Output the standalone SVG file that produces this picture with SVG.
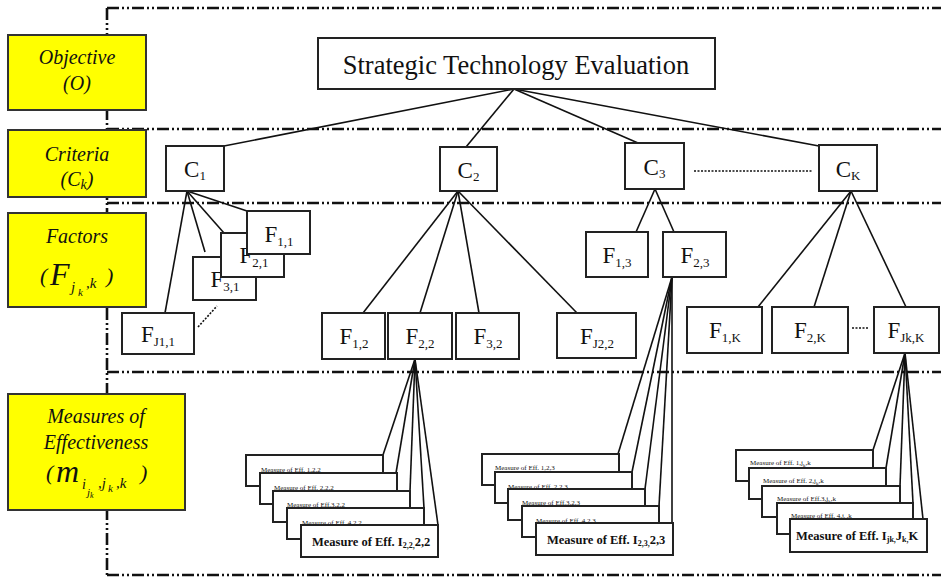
<svg xmlns="http://www.w3.org/2000/svg" width="941" height="581" viewBox="0 0 941 581" font-family="'Liberation Serif', 'DejaVu Serif', 'Times New Roman', serif">
<style>
.frame{fill:none;stroke:#111;stroke-width:2.6;stroke-dasharray:12 3 2 3 2 3}
.box{fill:#fff;stroke:#222;stroke-width:2}
.ybox{fill:#ffff00;stroke:#333;stroke-width:2}
.conn line{stroke:#111;stroke-width:1.6}
.dots{stroke:#111;stroke-width:3;stroke-dasharray:2 1.5}
text{font-family:'Liberation Serif','DejaVu Serif','Times New Roman',serif;fill:#111}
.lbl{font-size:23px;text-anchor:middle}
.sub{font-size:13px}
.ital{font-style:italic;font-size:20px;text-anchor:middle}
.small{font-size:7px}
.big{font-size:12.5px;font-weight:bold}
.bsub{font-size:8px}
</style>

<g id="frame">
<line class="frame" x1="107" y1="8" x2="941" y2="8"/>
<line class="frame" x1="107" y1="8" x2="107" y2="575"/>
<line class="frame" x1="107" y1="129" x2="941" y2="129"/>
<line class="frame" x1="107" y1="203" x2="941" y2="203"/>
<line class="frame" x1="107" y1="372" x2="941" y2="372"/>
<line class="frame" x1="107" y1="575" x2="941" y2="575"/>
</g>

<g id="legend-objective">
<rect class="ybox" x="8" y="35" width="138" height="75"/>
<text class="ital" x="77" y="64">Objective</text>
<text class="ital" x="77" y="90">(O)</text>
</g>
<g id="legend-criteria">
<rect class="ybox" x="8" y="130" width="138" height="67"/>
<text class="ital" x="77" y="161">Criteria</text>
<text class="ital" x="77" y="186">(C<tspan font-size="14" dy="3">k</tspan><tspan dy="-3">)</tspan></text>
</g>
<g id="legend-factors">
<rect class="ybox" x="8" y="213" width="138" height="94"/>
<text class="ital" x="77" y="243">Factors</text>
<text x="40" y="283" font-style="italic" font-size="22">(</text>
<text x="50" y="285" font-style="italic" font-size="32">F</text>
<text x="71" y="292" font-style="italic" font-size="15">j</text>
<text x="78" y="296" font-style="italic" font-size="11">k</text>
<text x="86" y="288" font-style="italic" font-size="15">,k</text>
<text x="106" y="283" font-style="italic" font-size="22">)</text>
</g>
<g id="legend-measures">
<rect class="ybox" x="8" y="394" width="177" height="116"/>
<text class="ital" x="96" y="423">Measures of</text>
<text class="ital" x="96" y="449">Effectiveness</text>
<text x="46" y="480" font-style="italic" font-size="22">(</text>
<text x="56" y="482" font-style="italic" font-size="32">m</text>
<text x="82" y="489" font-style="italic" font-size="14">i</text>
<text x="87" y="496" font-style="italic" font-size="11">j<tspan font-size="8" dy="2">k</tspan></text>
<text x="98" y="488" font-style="italic" font-size="15">,j</text>
<text x="108" y="492" font-style="italic" font-size="11">k</text>
<text x="116" y="488" font-style="italic" font-size="15">,k</text>
<text x="140" y="480" font-style="italic" font-size="22">)</text>
</g>

<g id="connectors" class="conn">
<line x1="514" y1="89" x2="224" y2="146"/>
<line x1="514" y1="89" x2="466" y2="147"/>
<line x1="514" y1="89" x2="638" y2="143"/>
<line x1="514" y1="89" x2="819" y2="146"/>
<line x1="187" y1="191" x2="165" y2="313"/>
<line x1="187" y1="191" x2="205" y2="252"/>
<line x1="187" y1="191" x2="224" y2="233"/>
<line x1="187" y1="191" x2="247" y2="211"/>
<line x1="458" y1="191" x2="363" y2="313"/>
<line x1="458" y1="191" x2="420" y2="313"/>
<line x1="458" y1="191" x2="479" y2="313"/>
<line x1="458" y1="191" x2="577" y2="313"/>
<line x1="655" y1="189" x2="636" y2="232"/>
<line x1="655" y1="189" x2="674" y2="232"/>
<line x1="851" y1="191" x2="758" y2="307"/>
<line x1="851" y1="191" x2="814" y2="307"/>
<line x1="851" y1="191" x2="906" y2="307"/>
<line x1="415" y1="359" x2="383" y2="455"/>
<line x1="415" y1="359" x2="396" y2="473"/>
<line x1="415" y1="359" x2="410" y2="491"/>
<line x1="415" y1="359" x2="424" y2="508"/>
<line x1="415" y1="359" x2="438" y2="525"/>
<line x1="672" y1="277" x2="618" y2="454"/>
<line x1="672" y1="277" x2="632" y2="472"/>
<line x1="672" y1="277" x2="645" y2="489"/>
<line x1="672" y1="277" x2="659" y2="506"/>
<line x1="672" y1="277" x2="672" y2="523"/>
<line x1="905" y1="353" x2="873" y2="450"/>
<line x1="905" y1="353" x2="886" y2="468"/>
<line x1="905" y1="353" x2="900" y2="486"/>
<line x1="905" y1="353" x2="913" y2="503"/>
<line x1="905" y1="353" x2="923" y2="519"/>
<line class="dots" x1="694" y1="171" x2="812" y2="171"/>
<line class="dots" x1="852" y1="328" x2="869" y2="328"/>
<line class="dots" x1="198" y1="327" x2="217" y2="306"/>
</g>

<g id="objective">
<rect class="box" x="318" y="38" width="397" height="51"/>
<text x="516" y="74" font-size="26.5" text-anchor="middle">Strategic Technology Evaluation</text>
</g>

<g id="c1"><rect class="box" x="166" y="146" width="58" height="45"/><text class="lbl" x="195" y="177">C<tspan class="sub" dy="3">1</tspan></text></g>
<g id="c2"><rect class="box" x="440" y="147" width="57" height="44"/><text class="lbl" x="468.5" y="178">C<tspan class="sub" dy="3">2</tspan></text></g>
<g id="c3"><rect class="box" x="625" y="143" width="59" height="46"/><text class="lbl" x="654.5" y="175">C<tspan class="sub" dy="3">3</tspan></text></g>
<g id="ck"><rect class="box" x="819" y="145" width="58" height="46"/><text class="lbl" x="848" y="177">C<tspan class="sub" dy="3">K</tspan></text></g>

<g id="f31"><rect class="box" x="193" y="257" width="63" height="43"/><text class="lbl" x="225" y="287">F<tspan class="sub" dy="4">3,1</tspan></text></g>
<g id="f21"><rect class="box" x="221" y="233" width="63" height="44"/><text class="lbl" x="254" y="263">F<tspan class="sub" dy="4">2,1</tspan></text></g>
<g id="f11"><rect class="box" x="247" y="211" width="63" height="43"/><text class="lbl" x="279" y="242">F<tspan class="sub" dy="4">1,1</tspan></text></g>
<g id="fj11"><rect class="box" x="122" y="313" width="72" height="41"/><text class="lbl" x="158" y="342">F<tspan class="sub" dy="4">J1,1</tspan></text></g>

<g id="f12"><rect class="box" x="322" y="313" width="63" height="46"/><text class="lbl" x="354" y="344">F<tspan class="sub" dy="4">1,2</tspan></text></g>
<g id="f22"><rect class="box" x="388" y="313" width="64" height="46"/><text class="lbl" x="420" y="344">F<tspan class="sub" dy="4">2,2</tspan></text></g>
<g id="f32"><rect class="box" x="456" y="313" width="63" height="46"/><text class="lbl" x="488" y="344">F<tspan class="sub" dy="4">3,2</tspan></text></g>
<g id="fj22"><rect class="box" x="557" y="313" width="79" height="45"/><text class="lbl" x="597" y="344">F<tspan class="sub" dy="4">J2,2</tspan></text></g>

<g id="f13"><rect class="box" x="586" y="232" width="62" height="45"/><text class="lbl" x="617" y="263">F<tspan class="sub" dy="4">1,3</tspan></text></g>
<g id="f23"><rect class="box" x="663" y="232" width="63" height="45"/><text class="lbl" x="695" y="263">F<tspan class="sub" dy="4">2,3</tspan></text></g>

<g id="f1k"><rect class="box" x="687" y="307" width="75" height="46"/><text class="lbl" x="725" y="338">F<tspan class="sub" dy="4">1,K</tspan></text></g>
<g id="f2k"><rect class="box" x="772" y="307" width="76" height="46"/><text class="lbl" x="810" y="338">F<tspan class="sub" dy="4">2,K</tspan></text></g>
<g id="fjkk"><rect class="box" x="874" y="307" width="65" height="46"/><text class="lbl" x="906" y="338">F<tspan class="sub" dy="4">Jk,K</tspan></text></g>

<g id="m-stack-22">
<rect class="box" x="246" y="455" width="137" height="31"/><text class="small" x="261" y="472">Measure of Eff. 1,2,2</text>
<rect class="box" x="260" y="473" width="137" height="31"/><text class="small" x="274" y="490">Measure of Eff. 2,2,2</text>
<rect class="box" x="273" y="491" width="137" height="31"/><text class="small" x="287" y="507">Measure of Eff.3,2,2</text>
<rect class="box" x="287" y="508" width="137" height="31"/><text class="small" x="302" y="525">Measure of Eff. 4,2,2</text>
<rect class="box" x="301" y="525" width="137" height="32"/><text class="big" x="312" y="546">Measure of Eff. I<tspan class="bsub" dy="2">2,2,</tspan><tspan dy="-2">2,2</tspan></text>
</g>
<g id="m-stack-23">
<rect class="box" x="482" y="454" width="137" height="31"/><text class="small" x="495" y="470">Measure of Eff. 1,2,3</text>
<rect class="box" x="495" y="472" width="137" height="31"/><text class="small" x="508" y="489">Measure of Eff. 2,2,3</text>
<rect class="box" x="508" y="489" width="137" height="31"/><text class="small" x="522" y="505">Measure of Eff.3,2,3</text>
<rect class="box" x="522" y="506" width="137" height="31"/><text class="small" x="536" y="523">Measure of Eff. 4,2,3</text>
<rect class="box" x="536" y="523" width="137" height="32"/><text class="big" x="547" y="544">Measure of Eff. I<tspan class="bsub" dy="2">2,3,</tspan><tspan dy="-2">2,3</tspan></text>
</g>
<g id="m-stack-jk">
<rect class="box" x="736" y="450" width="137" height="31"/><text class="small" x="750" y="465">Measure of Eff. 1,j<tspan font-size="5" dy="1.5">k</tspan><tspan dy="-1.5">,k</tspan></text>
<rect class="box" x="749" y="468" width="137" height="31"/><text class="small" x="763" y="483">Measure of Eff. 2,j<tspan font-size="5" dy="1.5">k</tspan><tspan dy="-1.5">,k</tspan></text>
<rect class="box" x="762" y="486" width="138" height="31"/><text class="small" x="777" y="501">Measure of Eff.3,j<tspan font-size="5" dy="1.5">k</tspan><tspan dy="-1.5">,k</tspan></text>
<rect class="box" x="777" y="503" width="136" height="31"/><text class="small" x="791" y="518">Measure of Eff. 4,j<tspan font-size="5" dy="1.5">k</tspan><tspan dy="-1.5">,k</tspan></text>
<rect class="box" x="790" y="519" width="137" height="33"/><text class="big" x="796" y="540">Measure of Eff. I<tspan class="bsub" dy="2">jk,</tspan><tspan dy="-2">J</tspan><tspan class="bsub" dy="2">k,</tspan><tspan dy="-2">K</tspan></text>
</g>
</svg>
